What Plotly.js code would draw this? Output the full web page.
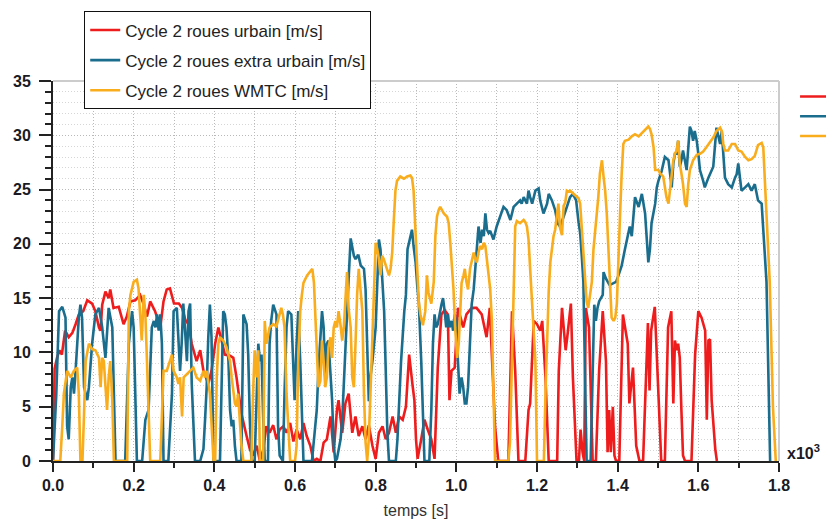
<!DOCTYPE html>
<html>
<head>
<meta charset="utf-8">
<script src="https://cdn.plot.ly/plotly-3.0.1.min.js"></script>
<style>html,body{margin:0;padding:0;background:#fff;}#chart{width:826px;height:519px;}</style>
</head>
<body>
<div id="chart"></div>
<script>
// time in 10^3 s, speed in m/s : [t, v]
const urbain = [[0,0],[0.004,8.5],[0.01,9.5],[0.016,10.2],[0.022,9.8],[0.03,12],[0.039,11.4],[0.048,11.8],[0.056,12.6],[0.064,13.5],[0.075,13.8],[0.085,14.8],[0.097,14.5],[0.105,13.8],[0.114,12.3],[0.118,12],[0.122,14.4],[0.13,15.6],[0.138,15],[0.142,15.8],[0.15,14.1],[0.163,14.2],[0.175,12.6],[0.183,13.3],[0.192,14.7],[0.204,14.8],[0.216,15.3],[0.225,14.4],[0.233,13.3],[0.241,14.7],[0.253,13.8],[0.266,12.3],[0.274,14.7],[0.282,15.8],[0.29,15.9],[0.3,14.5],[0.312,14.5],[0.32,14.1],[0.328,13],[0.336,12.6],[0.344,10.8],[0.356,9.2],[0.365,10.2],[0.373,8.3],[0.385,7.1],[0.393,8.3],[0.402,10.8],[0.41,12.3],[0.418,11.1],[0.426,9.8],[0.439,9.7],[0.447,9.5],[0.455,7.7],[0.459,6.5],[0.467,4.4],[0.48,2.3],[0.488,1.1],[0.496,0.5],[0.505,1.4],[0.513,0],[0.521,1],[0.529,3.2],[0.537,2.6],[0.546,3.3],[0.554,2],[0.562,2.9],[0.571,3.2],[0.579,2.6],[0.588,3.5],[0.596,1.8],[0.604,2.9],[0.613,2],[0.621,3.5],[0.629,2.3],[0.638,1.4],[0.646,0],[0.654,0.2],[0.663,0],[0.671,1.7],[0.679,2],[0.688,4.1],[0.696,0.8],[0.704,4.7],[0.708,5.6],[0.717,2.6],[0.725,5.3],[0.733,6.2],[0.742,2.6],[0.75,4.1],[0.758,2.3],[0.767,3.2],[0.775,2],[0.783,3.3],[0.792,1.4],[0.8,0.2],[0.808,2.6],[0.817,3.2],[0.825,2],[0.833,2.6],[0.842,4.1],[0.85,2.6],[0.858,4.1],[0.867,3.8],[0.875,5],[0.883,9.8],[0.892,6.8],[0.896,5.6],[0.9,2],[0.904,0.2],[0.913,2],[0.921,3.8],[0.929,2.9],[0.938,2],[0.946,0.2],[0.95,5],[0.954,8.6],[0.963,13.5],[0.971,13.9],[0.979,13.5],[0.983,5.6],[0.988,8.3],[0.996,8.6],[1.004,14.1],[1.017,12.3],[1.025,13.5],[1.038,14.1],[1.05,14.1],[1.063,13.5],[1.075,11.4],[1.083,14.1],[1.088,9.8],[1.096,3.2],[1.104,0],[1.129,0],[1.138,13.8],[1.146,8.3],[1.154,0],[1.171,0],[1.179,4.7],[1.183,5.3],[1.192,12.9],[1.2,12.6],[1.208,12],[1.213,12.9],[1.221,7.7],[1.229,0],[1.25,0],[1.254,8.3],[1.262,14.1],[1.267,11.4],[1.271,10.2],[1.275,11.4],[1.284,14.5],[1.289,7.7],[1.298,0],[1.304,0],[1.308,2.9],[1.313,0.8],[1.317,0],[1.321,14.1],[1.329,12.3],[1.338,0],[1.346,0],[1.354,8.3],[1.363,13.8],[1.371,9.2],[1.375,0.8],[1.379,4.7],[1.383,0.8],[1.388,5],[1.392,0.5],[1.396,0],[1.404,0],[1.413,13.5],[1.421,11.7],[1.425,10.8],[1.429,5.3],[1.438,8.6],[1.446,1.4],[1.454,0],[1.463,0],[1.471,8.3],[1.475,12.7],[1.479,6.5],[1.483,12],[1.492,14.2],[1.5,6.2],[1.508,0],[1.517,0],[1.525,12.3],[1.533,13.8],[1.538,5.3],[1.542,11.1],[1.546,10.2],[1.55,10.8],[1.554,9.5],[1.558,4.7],[1.562,0.5],[1.567,0],[1.583,0],[1.592,9.8],[1.6,13.8],[1.608,13.2],[1.617,12],[1.621,3.8],[1.625,11.1],[1.629,11.2],[1.633,5.6],[1.642,1.1],[1.646,0]];

const extraUrbain = [[0,0],[0.008,6],[0.015,13.8],[0.023,14.2],[0.031,13.2],[0.035,3.2],[0.039,2],[0.044,6.8],[0.048,7.7],[0.052,6.2],[0.056,8.3],[0.064,13.2],[0.068,14.4],[0.072,13.2],[0.077,6.8],[0.085,5.6],[0.089,6.8],[0.097,10.8],[0.105,13.5],[0.114,14.1],[0.122,12.3],[0.13,9.5],[0.138,14.1],[0.147,12.3],[0.151,6.2],[0.155,0],[0.179,0],[0.188,10.8],[0.196,13.8],[0.2,12.3],[0.204,6.2],[0.208,0],[0.221,0],[0.229,3.8],[0.237,4.7],[0.241,8.3],[0.245,12.3],[0.25,12.9],[0.254,12.3],[0.258,13.5],[0.262,12],[0.266,13.5],[0.27,10.8],[0.274,0],[0.286,0],[0.295,6.2],[0.299,13.8],[0.307,14.1],[0.315,8.3],[0.319,10.8],[0.323,14.5],[0.327,12.3],[0.332,9.2],[0.336,13.8],[0.34,14.5],[0.344,7.1],[0.352,0],[0.365,0],[0.369,0.7],[0.373,1.1],[0.377,3.8],[0.381,6.8],[0.385,11.4],[0.389,14.4],[0.393,11.4],[0.398,0],[0.414,0],[0.422,13.8],[0.426,13.5],[0.43,12.3],[0.435,9.2],[0.439,4.7],[0.443,3.2],[0.447,3.8],[0.451,1.4],[0.455,0],[0.467,0],[0.472,13.5],[0.48,12.6],[0.484,9.8],[0.488,3.8],[0.492,0],[0.5,0],[0.509,10.8],[0.513,9.2],[0.517,9.8],[0.521,4.1],[0.525,0],[0.533,0],[0.537,10.8],[0.541,12.9],[0.546,14.4],[0.554,13.5],[0.558,3.2],[0.562,0.5],[0.57,0],[0.574,6.2],[0.579,12.3],[0.583,13.8],[0.591,13.5],[0.595,9.5],[0.599,5.6],[0.604,10.8],[0.608,13.8],[0.613,9.2],[0.621,0],[0.642,0],[0.654,4.7],[0.658,8.3],[0.667,13.8],[0.671,12.3],[0.675,7.7],[0.679,10.8],[0.683,11.1],[0.688,8],[0.692,5.6],[0.696,1.4],[0.7,0],[0.704,0.2],[0.713,2],[0.717,3.8],[0.721,7.4],[0.725,10.2],[0.729,14.1],[0.733,16.8],[0.738,20.5],[0.742,19.5],[0.746,18.9],[0.75,18.6],[0.757,19],[0.763,18],[0.771,17.7],[0.775,15.8],[0.779,10],[0.783,5.5],[0.787,7.7],[0.792,9.2],[0.8,12.3],[0.804,17],[0.808,20.4],[0.812,19.5],[0.816,17.1],[0.821,13.8],[0.825,8.3],[0.829,2.6],[0.833,0],[0.85,0],[0.854,2],[0.858,5.6],[0.863,9.2],[0.871,13.8],[0.875,15.3],[0.879,19.5],[0.886,20.7],[0.89,21.3],[0.894,19.8],[0.899,18.3],[0.903,16.2],[0.907,14.6],[0.913,9.2],[0.917,3.2],[0.921,0],[0.933,0],[0.938,4.7],[0.942,10.8],[0.946,13.5],[0.95,12.3],[0.954,12.6],[0.963,14.4],[0.967,15],[0.971,13.8],[0.975,12.3],[0.979,13.5],[0.983,12.3],[0.988,12.9],[0.992,12],[0.996,13.5],[1.0,12.3],[1.004,9.2],[1.008,6.2],[1.013,7.7],[1.017,6.8],[1.021,5.3],[1.025,5.3],[1.029,6.8],[1.033,10.8],[1.038,14.4],[1.043,15.8],[1.047,18],[1.051,20.1],[1.055,21.6],[1.06,20.1],[1.064,21.3],[1.068,20.7],[1.072,22.8],[1.076,21.3],[1.08,21],[1.084,21.2],[1.092,20.4],[1.1,21.6],[1.109,22.5],[1.117,23.4],[1.125,23.1],[1.134,22.2],[1.142,23.4],[1.15,23.7],[1.158,24],[1.162,23.7],[1.167,24.3],[1.175,23.7],[1.179,24.9],[1.183,24.3],[1.188,23.7],[1.196,24.9],[1.204,25.1],[1.208,24],[1.216,22.8],[1.225,23.7],[1.229,24.6],[1.237,24],[1.245,23.1],[1.251,21.9],[1.257,21.6],[1.266,22.5],[1.274,23.4],[1.282,24.3],[1.289,24.6],[1.297,24],[1.303,22],[1.307,21],[1.311,18.9],[1.315,16.5],[1.319,8],[1.323,0],[1.333,0],[1.338,8],[1.342,14.4],[1.346,12.9],[1.35,14.1],[1.354,14.7],[1.363,15.3],[1.365,17.4],[1.371,16.8],[1.38,16.2],[1.396,16.5],[1.402,17.1],[1.41,18],[1.418,19.5],[1.427,21.3],[1.43,21.6],[1.435,20.7],[1.443,24.3],[1.452,23.4],[1.46,24.6],[1.468,22.8],[1.476,18.3],[1.48,19.5],[1.484,21.9],[1.493,23.7],[1.497,25.2],[1.501,25.8],[1.509,26.7],[1.517,28],[1.526,27.7],[1.534,25.2],[1.538,27.4],[1.542,28.3],[1.546,28.3],[1.55,29.5],[1.554,27.1],[1.558,27.7],[1.562,28.6],[1.571,26.8],[1.579,30.8],[1.583,30.4],[1.587,29.5],[1.591,30.4],[1.596,29.5],[1.6,28.3],[1.604,26.8],[1.612,25.8],[1.616,25.2],[1.625,26.1],[1.629,26.4],[1.637,27.1],[1.645,30.7],[1.649,30.1],[1.654,29.2],[1.658,30.4],[1.662,28.3],[1.666,26.1],[1.674,25.5],[1.683,25.2],[1.691,26.1],[1.695,26.4],[1.699,27.4],[1.703,26.1],[1.707,24.9],[1.716,25.2],[1.724,25.5],[1.732,24.9],[1.74,25.5],[1.748,24],[1.757,23.7],[1.761,21.3],[1.765,18.9],[1.769,16.5],[1.778,0]];

const wmtc = [[0,0],[0.018,0],[0.023,3.2],[0.027,6.2],[0.035,8.3],[0.039,8],[0.044,7.7],[0.048,8],[0.052,8.3],[0.06,8.6],[0.064,6.2],[0.068,0],[0.073,0],[0.077,4.4],[0.081,9.2],[0.089,10.8],[0.097,10.3],[0.105,10.2],[0.114,9.5],[0.118,6.8],[0.122,9.5],[0.126,9.2],[0.13,6.8],[0.134,4.7],[0.138,7.7],[0.142,9.2],[0.147,5.6],[0.151,0],[0.184,0],[0.188,13.8],[0.192,15.3],[0.2,16.5],[0.208,16.7],[0.212,15.9],[0.216,13.5],[0.22,11.1],[0.225,15.3],[0.229,13.5],[0.233,9.2],[0.237,4.7],[0.241,0],[0.266,0],[0.274,8.3],[0.282,8.3],[0.29,9.2],[0.295,9.8],[0.299,8.3],[0.307,7.7],[0.311,7.1],[0.315,7.7],[0.32,4.1],[0.324,7.7],[0.332,8],[0.34,8.3],[0.348,8.6],[0.356,7.7],[0.365,7.4],[0.373,8.3],[0.377,7.7],[0.381,8.3],[0.389,6.2],[0.398,0],[0.402,0],[0.406,7.7],[0.41,10.8],[0.414,11.4],[0.422,11.1],[0.43,10.5],[0.439,9.2],[0.443,7.7],[0.447,6.2],[0.451,5.3],[0.455,5],[0.459,6.2],[0.463,3.8],[0.467,1.5],[0.472,0],[0.492,0],[0.496,6.2],[0.5,10.2],[0.505,7.7],[0.509,10.2],[0.513,0],[0.521,0],[0.525,12.9],[0.529,10.8],[0.537,12.3],[0.546,12.6],[0.554,12.4],[0.562,13.5],[0.566,14.1],[0.57,13.5],[0.574,12.3],[0.579,6.2],[0.588,0],[0.6,0],[0.604,1.4],[0.608,9.2],[0.613,13.8],[0.617,15.3],[0.621,16.4],[0.63,17.1],[0.639,17.5],[0.643,17.7],[0.647,16.4],[0.652,12],[0.654,9.8],[0.658,6.8],[0.663,7.4],[0.667,11.1],[0.671,9.2],[0.675,6.8],[0.679,7.7],[0.683,10.5],[0.688,11.4],[0.692,9.5],[0.696,12.3],[0.7,12.9],[0.704,12.3],[0.708,13.8],[0.713,12.5],[0.717,11.1],[0.721,12.3],[0.725,15.3],[0.729,17.4],[0.733,14],[0.738,12.3],[0.742,7.7],[0.746,6.8],[0.75,10.8],[0.754,15.3],[0.758,17.7],[0.762,15.9],[0.767,13.8],[0.771,6.2],[0.775,1.7],[0.779,0],[0.783,2],[0.787,6.2],[0.796,16.5],[0.8,20.1],[0.804,19.5],[0.808,18.6],[0.812,17.1],[0.816,18.9],[0.82,18.6],[0.828,17.7],[0.833,17.1],[0.837,17.7],[0.841,19.2],[0.845,22.2],[0.849,24.9],[0.853,25.8],[0.861,26.2],[0.87,26],[0.878,26.2],[0.886,26.3],[0.89,26.1],[0.894,24.9],[0.899,20.7],[0.903,17.1],[0.907,14.6],[0.911,13.5],[0.917,12.5],[0.923,13.8],[0.927,17.1],[0.931,15.5],[0.938,14.5],[0.944,16.5],[0.948,20.7],[0.952,22.5],[0.956,23.1],[0.96,23.4],[0.969,22.8],[0.977,22.5],[0.981,21.9],[0.985,20.1],[0.989,17.7],[0.993,15.8],[0.997,12.3],[1.002,9.5],[1.006,10.8],[1.01,14.7],[1.013,16.4],[1.018,17.1],[1.021,17.7],[1.025,16.5],[1.029,15.8],[1.034,17.7],[1.039,18.6],[1.043,19.2],[1.047,18.6],[1.051,18.3],[1.055,19.2],[1.059,19.8],[1.064,19.5],[1.068,20.1],[1.072,19.8],[1.076,18.6],[1.08,17.1],[1.084,15.8],[1.088,13],[1.092,6.2],[1.096,0],[1.129,0],[1.133,1.7],[1.138,9.2],[1.142,16],[1.146,21.6],[1.15,22.1],[1.158,21.9],[1.167,22.2],[1.171,22],[1.175,21.6],[1.179,20.4],[1.183,17.7],[1.188,14.6],[1.196,9.2],[1.2,0],[1.217,0],[1.221,6.2],[1.225,12.3],[1.229,15.6],[1.233,18.3],[1.237,19.5],[1.241,20.7],[1.245,21.3],[1.249,22.6],[1.253,23.7],[1.257,21.5],[1.262,20.8],[1.266,23.5],[1.27,23.8],[1.274,24.9],[1.278,24.8],[1.282,24.9],[1.291,24.6],[1.299,24.3],[1.303,24.2],[1.307,23.7],[1.311,21.3],[1.315,18.9],[1.319,16.8],[1.323,14.7],[1.327,14.1],[1.331,15.3],[1.336,16.5],[1.34,19.5],[1.344,21],[1.348,22.2],[1.352,24.3],[1.356,26.5],[1.361,27.7],[1.365,26.2],[1.369,24.9],[1.373,22.8],[1.377,19.5],[1.381,15],[1.385,13.2],[1.39,12.9],[1.394,13.2],[1.398,14.5],[1.402,19.5],[1.406,22.8],[1.41,26.5],[1.414,29.2],[1.418,29.5],[1.427,29.6],[1.435,29.9],[1.443,30.1],[1.452,29.9],[1.46,30.2],[1.468,30.5],[1.476,30.8],[1.48,30.6],[1.484,30.1],[1.489,28.9],[1.493,26.8],[1.501,26.8],[1.505,26.5],[1.513,26.2],[1.517,25.2],[1.521,24.3],[1.526,23.7],[1.53,25.2],[1.534,26.5],[1.538,27.7],[1.542,28.3],[1.546,28.6],[1.55,29.5],[1.554,27.4],[1.558,26.5],[1.562,25.5],[1.567,23.7],[1.571,23.4],[1.575,25.5],[1.579,26.8],[1.587,27.7],[1.596,28.2],[1.604,28.3],[1.612,28.5],[1.62,28.9],[1.629,29.4],[1.637,29.8],[1.645,30.4],[1.654,30.7],[1.658,30.4],[1.662,29.2],[1.666,28.6],[1.674,28.6],[1.683,29.2],[1.691,29.2],[1.699,28.6],[1.707,28.5],[1.716,28],[1.724,27.7],[1.732,27.8],[1.74,28.1],[1.748,29.1],[1.757,29.3],[1.761,28.9],[1.765,25.5],[1.769,21.9],[1.773,18.9],[1.777,16.5],[1.785,5],[1.792,0]];

const seriesNames = ['Cycle 2 roues urbain [m/s]', 'Cycle 2 roues extra urbain [m/s]', 'Cycle 2 roues WMTC [m/s]'];
const seriesColors = ['#ee1c1c', '#1a6d8d', '#f9ad1d'];
const seriesData = [urbain, extraUrbain, wmtc];
const xTickLabels = ['0.0','0.2','0.4','0.6','0.8','1.0','1.2','1.4','1.6','1.8'];
const yTickVals = [0,5,10,15,20,25,30,35];

const traces = seriesData.map((d, i) => ({
  type: 'scatter', mode: 'lines',
  x: d.map(p => p[0]), y: d.map(p => p[1]),
  name: seriesNames[i], legendgroup: 'g' + i,
  line: {color: seriesColors[i], width: 2.6},
  hoverinfo: 'x+y'
}));

const tickFont = {family: 'Liberation Sans, Arial, sans-serif', size: 16, color: '#1a1a24', weight: 'bold'};
const gridCol = '#b9b9b9';

const layout = {
  width: 826, height: 519,
  margin: {l: 53, r: 47, t: 77, b: 58},
  paper_bgcolor: '#ffffff', plot_bgcolor: '#ffffff',
  font: {family: 'Liberation Sans, Arial, sans-serif', color: '#222'},
  showlegend: true,
  legend: {
    x: 0.043, y: 1.183, xanchor: 'left', yanchor: 'top',
    bgcolor: '#ffffff', bordercolor: '#111111', borderwidth: 1,
    font: {family: 'Liberation Sans, Arial, sans-serif', size: 17, color: '#222'},
    traceorder: 'grouped', tracegroupgap: 5
  },
  xaxis: {
    range: [0, 1.8], autorange: false,
    tickvals: xTickLabels.map(Number), ticktext: xTickLabels,
    ticks: 'outside', ticklen: 9, tickwidth: 2, tickcolor: '#222',
    showline: true, linecolor: '#222', linewidth: 2,
    showgrid: true, gridcolor: gridCol, gridwidth: 1, griddash: '1px,2px',
    zeroline: false,
    tickfont: tickFont,
    minor: {dtick: 0.1, tick0: 0, ticks: 'outside', ticklen: 5, tickwidth: 2, tickcolor: '#222',
            showgrid: true, gridcolor: gridCol, gridwidth: 1, griddash: '1px,2px'},
    title: {text: 'temps [s]', font: {family: 'Liberation Sans, Arial, sans-serif', size: 16, color: '#333'}, standoff: 13},
    automargin: false
  },
  yaxis: {
    range: [0, 35], autorange: false,
    tickvals: yTickVals,
    ticks: 'outside', ticklen: 12, tickwidth: 2, tickcolor: '#222',
    ticklabelstandoff: 5,
    showline: true, linecolor: '#222', linewidth: 2,
    showgrid: true, gridcolor: gridCol, gridwidth: 1, griddash: '1px,2px',
    zeroline: false,
    tickfont: tickFont,
    minor: {dtick: 1, tick0: 0, ticks: 'outside', ticklen: 6, tickwidth: 2, tickcolor: '#222',
            showgrid: true, gridcolor: '#d6d6d6', gridwidth: 1, griddash: '1px,2px'},
    automargin: false
  },
  shapes: [
    {type: 'line', xref: 'paper', yref: 'paper', x0: 0, x1: 1, y0: 1, y1: 1, line: {color: '#cccccc', width: 2}},
    {type: 'line', xref: 'paper', yref: 'paper', x0: 1, x1: 1, y0: 0, y1: 1, line: {color: '#cccccc', width: 2}},
    {type: 'line', xref: 'paper', yref: 'paper', x0: 1.029, x1: 1.08, y0: 0.959, y1: 0.959, line: {color: seriesColors[0], width: 2.5}},
    {type: 'line', xref: 'paper', yref: 'paper', x0: 1.029, x1: 1.08, y0: 0.907, y1: 0.907, line: {color: seriesColors[1], width: 2.5}},
    {type: 'line', xref: 'paper', yref: 'paper', x0: 1.029, x1: 1.08, y0: 0.855, y1: 0.855, line: {color: seriesColors[2], width: 2.5}}
  ],
  annotations: [
    {text: 'x10<sup>3</sup>', xref: 'paper', yref: 'paper', x: 1.008, y: 0.025, xanchor: 'left', yanchor: 'middle',
     showarrow: false, font: {family: 'Liberation Sans, Arial, sans-serif', size: 16, color: '#1a1a24', weight: 'bold'}}
  ]
};

Plotly.newPlot('chart', traces, layout, {displayModeBar: false, staticPlot: true});
</script>
</body>
</html>
